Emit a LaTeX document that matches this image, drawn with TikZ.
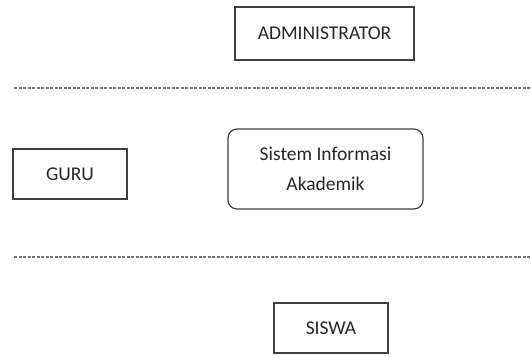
\documentclass[tikz,border=0pt]{standalone}
\usepackage{fontspec}
\setmainfont{Carlito}
\begin{document}
\begin{tikzpicture}[x=1pt,y=-1pt,
  actor/.style={draw=black!75,line width=1.2pt,inner sep=0pt,text=black!85,font=\fontsize{19.5}{30}\selectfont},
  sysbox/.style={actor,rounded corners=9pt,align=center},
  divider/.style={draw=black!55,line width=1.3pt,dash pattern=on 3pt off 1.5pt}]
\useasboundingbox (0,0) rectangle (532,356);
\node[actor,minimum width=179pt,minimum height=53pt] (admin) at (324.5,33.5) {ADMINISTRATOR};
\node[actor,minimum width=114pt,minimum height=50pt] (guru) at (70,174) {GURU};
\node[sysbox,minimum width=195pt,minimum height=80pt] (sia) at (325.5,169) {Sistem Informasi\\Akademik};
\node[actor,minimum width=114pt,minimum height=50pt] (siswa) at (331,328) {SISWA};
\coordinate (l1a) at (14,88);
\coordinate (l1b) at (532,88);
\coordinate (l2a) at (14,257);
\coordinate (l2b) at (532,257);
\draw[divider] (l1a) -- (l1b);
\draw[divider] (l2a) -- (l2b);
\end{tikzpicture}
\end{document}
